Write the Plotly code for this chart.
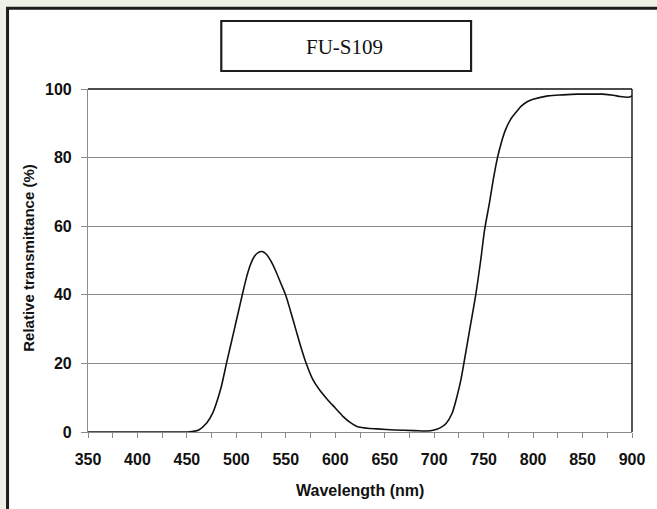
import plotly.graph_objects as go

# Data
wavelength = [350, 400, 450, 455, 462, 470, 476, 481, 485, 490, 494, 498, 502, 506, 510, 514,
              518, 522, 526, 530, 535, 540, 545, 550, 555, 560, 565, 570, 577, 584, 592, 600,
              608, 615, 622, 632, 642, 660, 680, 692, 700, 706, 712, 718, 723, 727, 730, 736,
              742, 747, 751, 756, 760, 764, 768, 772, 777, 783, 788, 794, 800, 815, 830, 845,
              860, 870, 881, 888, 896, 900]
transmittance = [0, 0, 0, 0.1, 0.6, 2.6, 5.5, 9.5, 13.5, 20, 25, 30, 35, 40, 44.8, 48.6,
                 51.1, 52.3, 52.6, 51.9, 49.8, 46.8, 43.3, 39.8, 35, 30, 25, 20.5, 15.5, 12.3, 9.5, 7.0,
                 4.5, 2.8, 1.6, 1.1, 0.9, 0.6, 0.4, 0.3, 0.6, 1.2, 2.5, 5.4, 10.3, 15.2, 20, 30,
                 40, 50, 59, 67, 74, 80, 84.5, 88, 91, 93.3, 95, 96.3, 97, 98, 98.3, 98.5,
                 98.5, 98.5, 98.2, 97.8, 97.6, 98]

title_text = "FU-S109"
x_title = "Wavelength (nm)"
y_title = "Relative transmittance (%)"
x_range = [350, 900]
y_range = [0, 100]

W, H = 657, 509
L, R, T, B = 88, 18, 89, 77
pw, ph = W - L - R, H - T - B

def px(x):
    return (x - L) / pw

def py(y):
    return (H - B - y) / ph

fig = go.Figure()
fig.add_trace(go.Scatter(
    x=wavelength, y=transmittance, mode="lines",
    line=dict(color="#111111", width=1.6, shape="spline", smoothing=0.8),
    hoverinfo="skip", showlegend=False,
))

tickfont = dict(family="Liberation Sans, Arial, sans-serif", size=16, color="#111111", weight="bold")
gray = "#8a8a8a"

fig.update_layout(
    width=W, height=H,
    margin=dict(l=L, r=R, t=T, b=B, pad=0),
    paper_bgcolor="#eef2e6",
    plot_bgcolor="white",
    showlegend=False,
    xaxis=dict(
        range=x_range, dtick=50, tick0=350, ticks="outside", ticklen=5, tickcolor=gray,
        tickwidth=1, showline=True, linecolor=gray, linewidth=1.2, showgrid=False,
        zeroline=False, tickfont=tickfont, ticklabelstandoff=8,
        minor=dict(dtick=25, tick0=350, ticks="outside", ticklen=5, tickcolor=gray, showgrid=False),
    ),
    yaxis=dict(
        range=y_range, dtick=20, ticks="outside", ticklen=6, tickcolor=gray, tickwidth=1,
        showline=True, linecolor=gray, linewidth=1.2, showgrid=True, gridcolor=gray,
        gridwidth=1, zeroline=False, tickfont=tickfont, ticklabelstandoff=6,
    ),
    shapes=[
        # outer white chart area with dark border
        dict(type="rect", xref="paper", yref="paper", layer="below",
             x0=px(6.5), x1=px(700), y0=py(560), y1=py(8.2),
             fillcolor="white", line=dict(color="#1e1e1e", width=3)),
        # title box
        dict(type="rect", xref="paper", yref="paper",
             x0=px(223), x1=px(476), y0=py(71), y1=py(21),
             fillcolor="white", line=dict(color="#1e1e1e", width=2.2)),
        # top and right frame of plot area
        dict(type="line", xref="paper", yref="paper", x0=0, x1=1, y0=1, y1=1,
             line=dict(color="#111111", width=1.4)),
        dict(type="line", xref="paper", yref="paper", x0=1, x1=1, y0=0, y1=1,
             line=dict(color="#111111", width=1.4)),
    ],
    annotations=[
        dict(text=title_text, xref="paper", yref="paper", x=px(348), y=py(46.5),
             xanchor="center", yanchor="middle", showarrow=False,
             font=dict(family="Liberation Serif, Times New Roman, serif", size=21, color="#111111")),
        dict(text=x_title, xref="paper", yref="paper", x=px(363), y=py(490),
             xanchor="center", yanchor="middle", showarrow=False,
             font=dict(family="Liberation Sans, Arial, sans-serif", size=16, color="#111111", weight="bold")),
        dict(text=y_title, xref="paper", yref="paper", x=px(27), y=py(258),
             xanchor="center", yanchor="middle", showarrow=False, textangle=-90,
             font=dict(family="Liberation Sans, Arial, sans-serif", size=15, color="#111111", weight="bold")),
    ],
)

fig.write_html("out.html")
